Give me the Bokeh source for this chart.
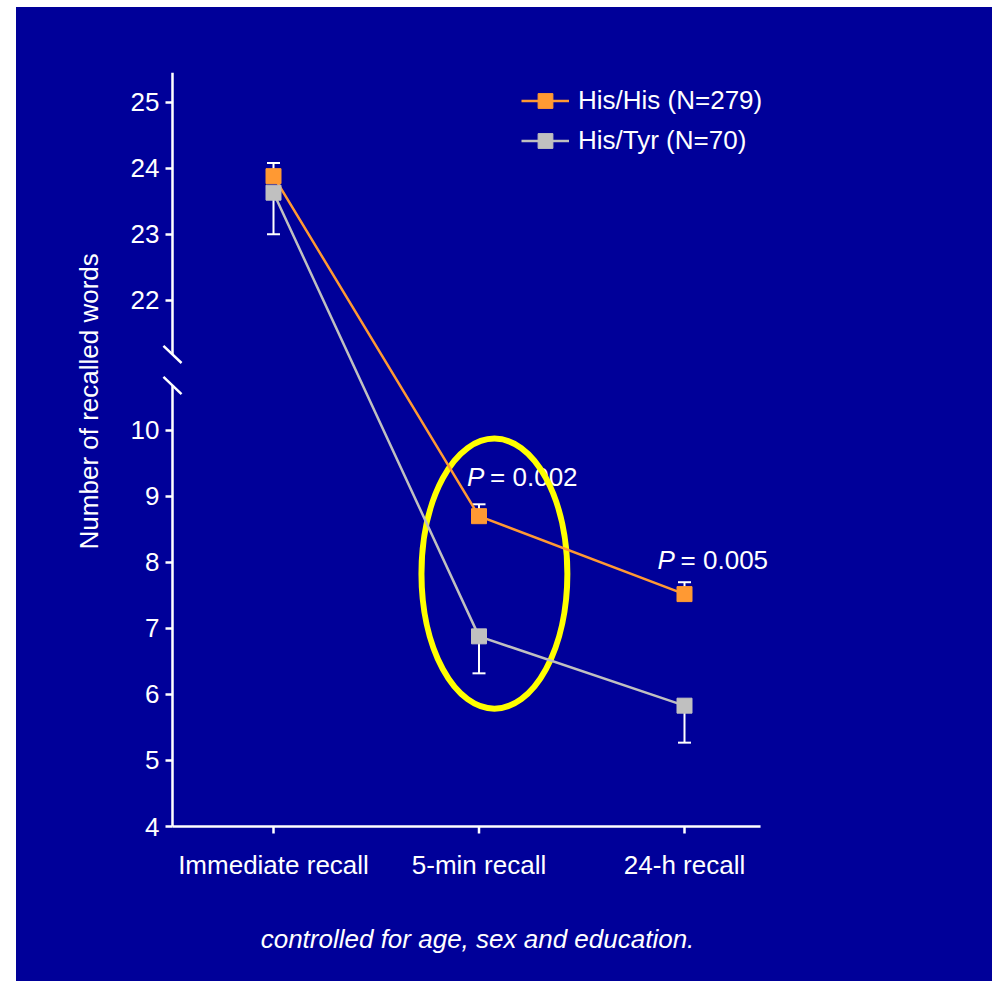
import math
from bokeh.plotting import figure
from bokeh.models import (ColumnDataSource, FixedTicker, Whisker, TeeHead, Legend,
                          LegendItem, Spacer, Range1d)
from bokeh.layouts import row, column
from bokeh.core.properties import value
from bokeh.embed import file_html
from bokeh.resources import INLINE

# ---------------- data ----------------
categories = ["Immediate recall", "5-min recall", "24-h recall"]
his_his = [23.88, 8.70, 7.52]
his_his_upper = [24.08, 8.88, 7.70]
his_tyr = [23.63, 6.88, 5.83]
his_tyr_lower = [23.00, 6.32, 5.27]
series_names = ["His/His (N=279)", "His/Tyr (N=70)"]
p_values = ["0.002", "0.005"]
lower_ticks = [4, 5, 6, 7, 8, 9, 10]
upper_ticks = [22, 23, 24, 25]
y_label = "Number of recalled words"
footnote = "controlled for age, sex and education."

# ---------------- styling ----------------
NAVY = "#000099"
ORANGE = "#FF9933"
GRAY = "#C0C0C0"
FONT = "Liberation Sans"
FS = "26px"
BREAK_SHIFT = 10.03  # upper segment (22-25) drawn directly above the break


def to_plot(v):
    return v - BREAK_SHIFT if v > 11 else v


xs = list(range(1, len(categories) + 1))

X_AXIS_POS = 0.5085     # where the y axis crosses
X_AXIS_END = 3.37
Y_BASE = 4              # where the x axis crosses
Y_TOP = 15.42
TICK = 7 / 66           # tick length in data units of y

p = figure(width=976, height=974, output_backend="svg", toolbar_location=None,
           x_range=Range1d(-0.0073, 3.9927), y_range=Range1d(3.788, Y_TOP),
           min_border_left=50, min_border_right=104, min_border_top=65,
           min_border_bottom=141)
p.styles = {"background-color": NAVY}
p.background_fill_color = NAVY
p.border_fill_color = NAVY
p.outline_line_color = None
p.xgrid.visible = False
p.ygrid.visible = False

# x axis: labels and footnote from the axis; its line and ticks are drawn at y=4
p.xaxis.ticker = FixedTicker(ticks=xs)
p.xaxis.major_label_overrides = {x: c for x, c in zip(xs, categories)}
p.xaxis.axis_line_color = None
p.xaxis.major_tick_line_color = None
p.xaxis.major_tick_out = 0
p.xaxis.major_tick_in = 0
p.xaxis.minor_tick_line_color = None
p.xaxis.major_label_text_color = "white"
p.xaxis.major_label_text_font = FONT
p.xaxis.major_label_text_font_size = FS
p.xaxis.major_label_standoff = 9
p.xaxis.axis_label = footnote
p.xaxis.axis_label_text_font = FONT
p.xaxis.axis_label_text_font_size = FS
p.xaxis.axis_label_text_font_style = "italic"
p.xaxis.axis_label_text_color = "white"
p.xaxis.axis_label_standoff = 41

# y axis (drawn at a fixed location; its line is drawn below with a break)
ytick_pos = lower_ticks + [to_plot(t) for t in upper_ticks]
ytick_lab = [str(t) for t in lower_ticks + upper_ticks]
p.yaxis.fixed_location = X_AXIS_POS
p.yaxis.ticker = FixedTicker(ticks=ytick_pos)
p.yaxis.major_label_overrides = {tp: tl for tp, tl in zip(ytick_pos, ytick_lab)}
p.yaxis.axis_line_color = None
p.yaxis.major_tick_line_color = "white"
p.yaxis.major_tick_line_width = 2.5
p.yaxis.major_tick_out = 7
p.yaxis.major_tick_in = 0
p.yaxis.minor_tick_line_color = None
p.yaxis.major_label_text_color = "white"
p.yaxis.major_label_text_font = FONT
p.yaxis.major_label_text_font_size = FS
p.yaxis.major_label_standoff = 6

# axis lines: broken y axis with slash marks, x axis line with ticks
brk_hi, brk_lo = 11.15, 10.68
dx, dy = 0.044, 0.13
p.segment(x0=[X_AXIS_POS, X_AXIS_POS, X_AXIS_POS - dx, X_AXIS_POS - dx, X_AXIS_POS],
          y0=[Y_TOP, brk_lo, brk_hi + dy, brk_lo + dy, Y_BASE],
          x1=[X_AXIS_POS, X_AXIS_POS, X_AXIS_POS + dx, X_AXIS_POS + dx, X_AXIS_END],
          y1=[brk_hi, Y_BASE, brk_hi - dy, brk_lo - dy, Y_BASE],
          line_color="white", line_width=2.5)
p.segment(x0=xs, y0=[Y_BASE] * len(xs), x1=xs, y1=[Y_BASE - TICK] * len(xs),
          line_color="white", line_width=2.5)

# y axis title
p.text(x=[0.0998], y=[10.44], text=[y_label], angle=math.pi / 2,
       text_align="center", text_baseline="middle", text_color="white",
       text_font=value(FONT), text_font_size=FS)

# P value texts (drawn before the highlight ellipse)
p_x = [1.942, 2.869]
p_y = [9.30, 8.03]
p.text(x=p_x, y=p_y, text=["P"] * 2, text_color="white", text_font=value(FONT),
       text_font_size=FS, text_font_style="italic", text_baseline="middle")
p.text(x=p_x, y=p_y, text=["= " + v for v in p_values], x_offset=23,
       text_color="white", text_font=value(FONT), text_font_size=FS,
       text_baseline="middle")

# yellow highlight ellipse
p.ellipse(x=[2.075], y=[7.83], width=[0.71], height=[4.09], fill_color=None,
          line_color="#FFFF00", line_width=6)

# error bars
src_hh = ColumnDataSource(dict(x=xs, y=[to_plot(v) for v in his_his],
                               up=[to_plot(v) for v in his_his_upper]))
src_ht = ColumnDataSource(dict(x=xs, y=[to_plot(v) for v in his_tyr],
                               lo=[to_plot(v) for v in his_tyr_lower]))
w1 = Whisker(base="x", lower="y", upper="up", source=src_hh, dimension="height",
             line_color="white", line_width=2, lower_head=None,
             upper_head=TeeHead(size=13, line_color="white", line_width=2),
             level="underlay")
w2 = Whisker(base="x", lower="lo", upper="y", source=src_ht, dimension="height",
             line_color="white", line_width=2, upper_head=None,
             lower_head=TeeHead(size=13, line_color="white", line_width=2),
             level="underlay")
p.add_layout(w1)
p.add_layout(w2)

# series
l2 = p.line("x", "y", source=src_ht, line_color=GRAY, line_width=2.5)
l1 = p.line("x", "y", source=src_hh, line_color=ORANGE, line_width=2.5)
s2 = p.scatter("x", "y", source=src_ht, marker="square", size=15, fill_color=GRAY,
               line_color=GRAY)
s1 = p.scatter("x", "y", source=src_hh, marker="square", size=15, fill_color=ORANGE,
               line_color=ORANGE)

legend = Legend(items=[LegendItem(label=series_names[0], renderers=[l1, s1]),
                       LegendItem(label=series_names[1], renderers=[l2, s2])],
                location=(455, 681), background_fill_alpha=0, border_line_color=None,
                label_text_color="white", label_text_font=FONT,
                label_text_font_size=FS, glyph_width=48, glyph_height=37,
                label_height=24, label_standoff=9, spacing=3, padding=0, margin=0)
p.add_layout(legend)

layout = row(Spacer(width=16), column(Spacer(height=7), p))
open("out.html", "w").write(file_html(layout, INLINE))
